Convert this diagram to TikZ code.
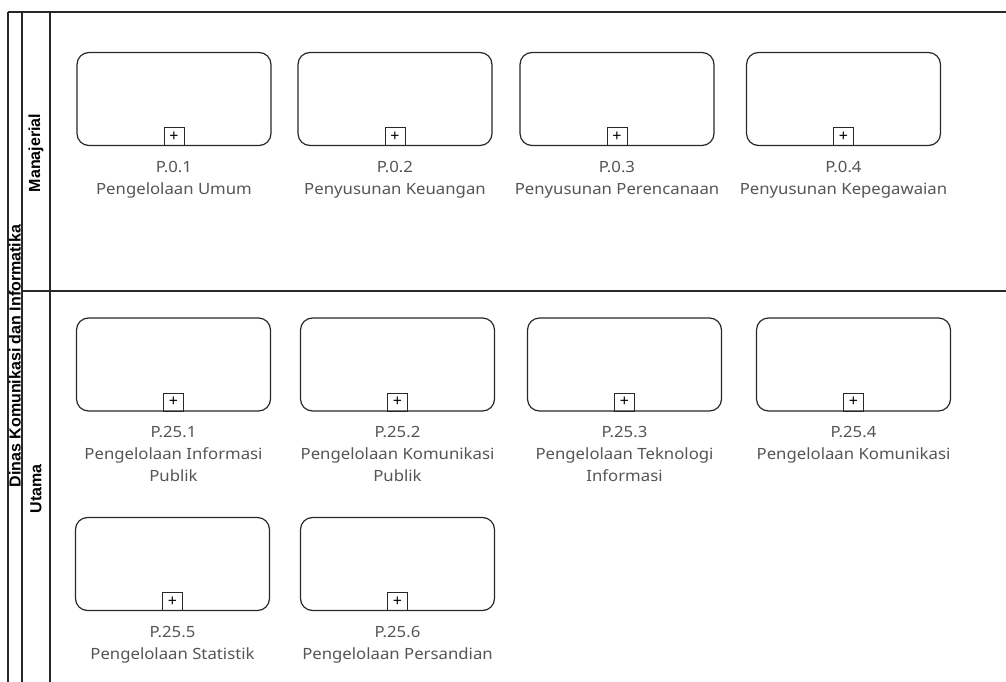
\documentclass[tikz,border=0pt]{standalone}
\usepackage{fontspec}
\setmainfont{Noto Sans}
\newfontfamily\lanefont{Liberation Sans}
\definecolor{labelgray}{RGB}{85,85,85}
\definecolor{linegray}{RGB}{40,40,40}
\newcommand\wt[1]{\scalebox{1.08}[1]{#1}}
\begin{document}
\begin{tikzpicture}[x=1pt,y=-1pt,
  lane/.style={line width=1.5pt, draw=linegray},
  task/.style={draw=linegray, line width=1.2pt, rounded corners=12pt, minimum width=194pt, minimum height=93pt, inner sep=0pt, fill=white},
  sub/.style={draw=linegray, line width=1pt, minimum width=20pt, minimum height=18pt, inner sep=0pt, anchor=south, font=\fontsize{16}{16}\selectfont},
  lbl/.style={text=labelgray, font=\fontsize{15.5}{22}\selectfont, anchor=base, inner sep=0pt},
  lanelbl/.style={rotate=90, font=\lanefont\bfseries\fontsize{16}{16}\selectfont, inner sep=0pt}]
\useasboundingbox (0,0) rectangle (1006,682);
% pool and lanes
\draw[lane] (8,12) -- (1006,12);
\draw[lane] (8,12) -- (8,682);
\draw[lane] (22,12) -- (22,682);
\draw[lane] (50,12) -- (50,682);
\draw[lane] (22,291) -- (1006,291);
\node[lanelbl] (pool) at (15,356) {Dinas Komunikasi dan Informatika};
\node[lanelbl] (laneA) at (36,153) {Manajerial};
\node[lanelbl] (laneB) at (36,489) {Utama};
% row 1
\node[task] (p01) at (174,99) {};
\node[task] (p02) at (395,99) {};
\node[task] (p03) at (617,99) {};
\node[task] (p04) at (843.5,99) {};
% row 2
\node[task] (p251) at (173.5,364.5) {};
\node[task] (p252) at (397.5,364.5) {};
\node[task] (p253) at (624.5,364.5) {};
\node[task] (p254) at (853.5,364.5) {};
% row 3
\node[task] (p255) at (172.5,564) {};
\node[task] (p256) at (397.5,564) {};
% sub-process markers
\foreach \n in {p01,p02,p03,p04,p251,p252,p253,p254,p255,p256}
  \node[sub] (\n m) at (\n.south) {+};
% labels row 1
\node[lbl] (p01a) at (174,172) {\wt{P.0.1}};
\node[lbl] (p01b) at (174,194) {\wt{Pengelolaan Umum}};
\node[lbl] (p02a) at (395,172) {\wt{P.0.2}};
\node[lbl] (p02b) at (395,194) {\wt{Penyusunan Keuangan}};
\node[lbl] (p03a) at (617,172) {\wt{P.0.3}};
\node[lbl] (p03b) at (617,194) {\wt{Penyusunan Perencanaan}};
\node[lbl] (p04a) at (843.5,172) {\wt{P.0.4}};
\node[lbl] (p04b) at (843.5,194) {\wt{Penyusunan Kepegawaian}};
% labels row 2
\node[lbl] (p251a) at (173.5,437) {\wt{P.25.1}};
\node[lbl] (p251b) at (173.5,459) {\wt{Pengelolaan Informasi}};
\node[lbl] (p251c) at (173.5,481) {\wt{Publik}};
\node[lbl] (p252a) at (397.5,437) {\wt{P.25.2}};
\node[lbl] (p252b) at (397.5,459) {\wt{Pengelolaan Komunikasi}};
\node[lbl] (p252c) at (397.5,481) {\wt{Publik}};
\node[lbl] (p253a) at (624.5,437) {\wt{P.25.3}};
\node[lbl] (p253b) at (624.5,459) {\wt{Pengelolaan Teknologi}};
\node[lbl] (p253c) at (624.5,481) {\wt{Informasi}};
\node[lbl] (p254a) at (853.5,437) {\wt{P.25.4}};
\node[lbl] (p254b) at (853.5,459) {\wt{Pengelolaan Komunikasi}};
% labels row 3
\node[lbl] (p255a) at (172.5,637) {\wt{P.25.5}};
\node[lbl] (p255b) at (172.5,659) {\wt{Pengelolaan Statistik}};
\node[lbl] (p256a) at (397.5,637) {\wt{P.25.6}};
\node[lbl] (p256b) at (397.5,659) {\wt{Pengelolaan Persandian}};
\end{tikzpicture}
\end{document}
